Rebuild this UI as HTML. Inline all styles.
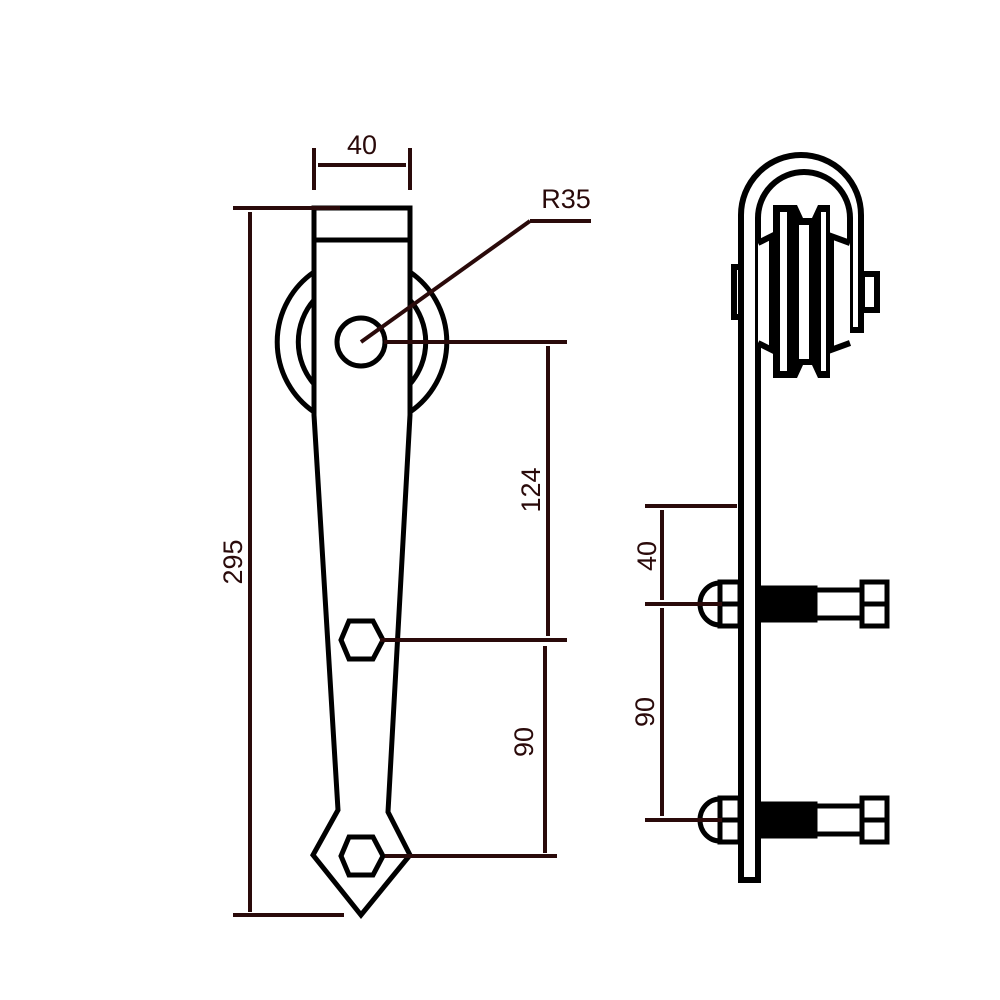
<!DOCTYPE html>
<html><head><meta charset="utf-8"><style>
html,body{margin:0;padding:0;background:#fff;width:1000px;height:1000px;overflow:hidden}
svg{display:block}
text{font-family:"Liberation Sans",sans-serif;font-size:27px;fill:#2a0a0a}
</style></head><body>
<svg width="1000" height="1000" viewBox="0 0 1000 1000" xmlns="http://www.w3.org/2000/svg">
<g fill="none" stroke="#000" stroke-width="5" stroke-linejoin="miter">
  <path d="M314,272 A85,85 0 0 0 314,412"/>
  <path d="M410,272 A85,85 0 0 1 410,412"/>
  <path d="M314,300 A64,64 0 0 0 314,384"/>
  <path d="M410,300 A64,64 0 0 1 410,384"/>
  <path d="M314,208 L410,208 L410,415 L388,812 L410,855 L361,915 L313,855 L338,810 L314,415 Z" fill="#fff"/>
  <line x1="314" y1="240" x2="410" y2="240"/>
  <circle cx="361" cy="342" r="24" fill="#fff"/>
  <polygon points="349,621 373,621 383,640 373,659 349,659 341,640" fill="#fff"/>
  <polygon points="349,837 373,837 383,856 373,875 349,875 341,856" fill="#fff"/>
</g>
<g stroke="#2a0a0a" stroke-width="4" fill="none">
  <line x1="233" y1="208" x2="340" y2="208"/>
  <line x1="250" y1="212" x2="250" y2="912"/>
  <line x1="233" y1="915" x2="344" y2="915"/>
  <line x1="314" y1="148" x2="314" y2="190"/>
  <line x1="410" y1="148" x2="410" y2="190"/>
  <line x1="318" y1="165" x2="406" y2="165"/>
  <line x1="361" y1="342" x2="530" y2="221"/>
  <line x1="530" y1="221" x2="591" y2="221"/>
  <line x1="384" y1="342" x2="567" y2="342"/>
  <line x1="548" y1="346" x2="548" y2="636"/>
  <line x1="380" y1="640" x2="567" y2="640"/>
  <line x1="545" y1="646" x2="545" y2="853"/>
  <line x1="385" y1="856" x2="557" y2="856"/>
</g>
<text x="362" y="154" text-anchor="middle">40</text>
<text x="566" y="208" text-anchor="middle">R35</text>
<text transform="translate(242,562) rotate(-90)" text-anchor="middle">295</text>
<text transform="translate(540,490) rotate(-90)" text-anchor="middle">124</text>
<text transform="translate(533,742) rotate(-90)" text-anchor="middle">90</text>
<g fill="none" stroke="#000" stroke-width="6">
  <rect x="734" y="267" width="7" height="50" fill="#fff"/>
  <rect x="862" y="274" width="15" height="36" fill="#fff"/>
  <path d="M741,880 L741,215 A60,60 0 0 1 861,215 L861,330 L850,330 L850,218 A46,46 0 0 0 758,218 L758,880 Z" fill="#fff"/>
  <path d="M758,243 L772,236 L772,350 L758,343" fill="#fff"/>
  <path d="M850,243 L831,236 L831,350 L850,343" fill="#fff"/>
</g>
<!-- wheel -->
<path d="M773,205 L797,205 L803,218 L812,218 L818,205 L830,205 L830,378 L818,378 L812,365 L803,365 L797,378 L773,378 Z" fill="#000"/>
<rect x="780" y="212" width="7" height="159" fill="#fff"/>
<rect x="799" y="225" width="10" height="134" fill="#fff"/>
<rect x="821" y="212" width="5" height="159" fill="#fff"/>
<g id="b1" fill="none" stroke="#000" stroke-width="5">
  <path d="M720,583 A20,21 0 0 0 720,625" fill="#fff"/>
  <rect x="720" y="582" width="20" height="44" fill="#fff"/>
  <line x1="720" y1="604" x2="740" y2="604"/>
  <rect x="758" y="588" width="57" height="32" fill="#000"/>
  <rect x="815" y="590" width="47" height="28" fill="#fff"/>
  <rect x="862" y="582" width="25" height="44" fill="#fff"/>
  <line x1="862" y1="604" x2="887" y2="604"/>
</g>
<use href="#b1" transform="translate(0,216)"/>
<g stroke="#2a0a0a" stroke-width="4" fill="none">
  <line x1="645" y1="506" x2="737" y2="506"/>
  <line x1="662" y1="510" x2="662" y2="600"/>
  <line x1="645" y1="604" x2="722" y2="604"/>
  <line x1="662" y1="608" x2="662" y2="816"/>
  <line x1="645" y1="820" x2="722" y2="820"/>
</g>
<text transform="translate(656,556) rotate(-90)" text-anchor="middle">40</text>
<text transform="translate(654,712) rotate(-90)" text-anchor="middle">90</text>
</svg>
</body></html>
